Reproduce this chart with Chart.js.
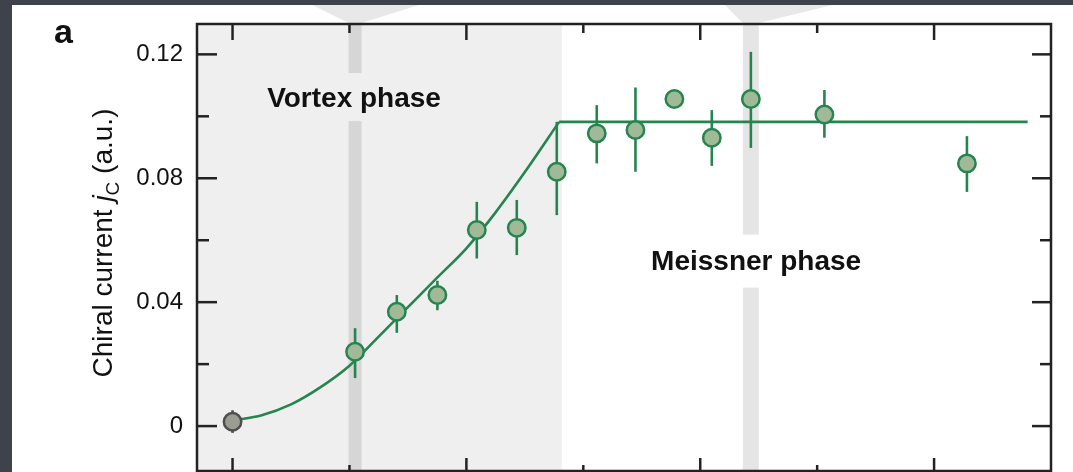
<!DOCTYPE html>
<html><head><meta charset="utf-8">
<script src="https://cdn.jsdelivr.net/npm/chart.js@4/dist/chart.umd.min.js"></script>
<style>html,body{margin:0;padding:0;background:#3e424b;overflow:hidden}canvas{display:block}</style>
</head><body>
<canvas id="c" width="1073" height="472"></canvas>
<script>
// ---- data ----
const pointX  = [1.048, 1.405, 1.752, 2.089, 2.431, 2.773, 3.115, 3.446, 3.779, 4.099, 4.433, 5.062, 6.281];
const pointY  = [0.0240, 0.0369, 0.0423, 0.0633, 0.0640, 0.0821, 0.0945, 0.0956, 0.1056, 0.0931, 0.1056, 0.1006, 0.0848];
const errLow  = [0.0155, 0.0301, 0.0374, 0.0541, 0.0552, 0.0681, 0.0848, 0.0821, null, 0.0840, 0.0898, 0.0931, 0.0756];
const errHigh = [0.0316, 0.0423, 0.0469, 0.0724, 0.0730, 0.0982, 0.1036, 0.1093, null, 0.1020, 0.1208, 0.1085, 0.0936];
const refX = [0.0];
const refY = [0.0014];
const refLow = [-0.0022];
const refHigh = [0.0051];
const fitCurveX = [0, 0.25, 0.5, 0.75, 1.0, 1.25, 1.5, 1.75, 2.0, 2.25, 2.5, 2.793];
const fitCurveY = [0.0018, 0.0035, 0.0070, 0.0125, 0.0195, 0.0289, 0.0384, 0.0479, 0.0574, 0.0690, 0.0820, 0.0982];
const fitFlatX = [2.793, 6.80];
const fitFlatY = [0.0982, 0.0982];
const vortexEndX = 2.816;
const highlightX = [1.048, 4.433];
const phaseLabels = ['Vortex phase', 'Meissner phase'];
const yTickLabels = [0, 0.04, 0.08, 0.12];
const yMinorTicks = [0.02, 0.06, 0.10];
const xMajorTicks = [0, 2, 4, 6];
const xMinorTicks = [1, 3, 5];
const yTitleParts = ['Chiral current ', 'j', 'C', ' (a.u.)'];
const panelLetter = 'a';

// ---- styling ----
const FONT = '"Liberation Sans", Arial, Helvetica, sans-serif';
const GREEN = '#26844e';
const FILL = '#a0ba98';
const INK = '#111111';

const labelPos = [ {x: 1.039, y: 0.103}, {x: 4.478, y: 0.0505} ];
const stripeStyle = [
  {w: 13, topL: -43, topR: 64, gapUp: 34, gapDown: 14},
  {w: 16, topL: -26, topR: 82, gapUp: 35, gapDown: 18}
];

const decor = {
  id: 'decor',
  beforeDraw(chart) {
    const {ctx, chartArea: a, scales: {x, y}} = chart;
    ctx.save();
    ctx.fillStyle = '#3e424b';
    ctx.fillRect(0, 0, chart.width, chart.height);
    ctx.fillStyle = '#ffffff';
    ctx.fillRect(12, 5, chart.width - 12, chart.height - 5);
    // vortex shading
    const xe = x.getPixelForValue(vortexEndX);
    ctx.fillStyle = '#efefef';
    ctx.fillRect(a.left, a.top, xe - a.left, a.bottom - a.top);
    // highlight stripes
    highlightX.forEach((hx, i) => {
      const cx = x.getPixelForValue(hx);
      const s = stripeStyle[i];
      const by = y.getPixelForValue(labelPos[i].y);
      ctx.fillStyle = 'rgba(0,0,0,0.1)';
      ctx.fillRect(cx - s.w / 2, a.top, s.w, (by - s.gapUp) - a.top);
      ctx.fillRect(cx - s.w / 2, by + s.gapDown, s.w, a.bottom - (by + s.gapDown));
      ctx.fillStyle = 'rgba(0,0,0,0.09)';
      ctx.beginPath();
      ctx.moveTo(cx + s.topL, 5);
      ctx.lineTo(cx + s.topR, 5);
      ctx.lineTo(cx + s.w / 2, a.top - 1);
      ctx.lineTo(cx - s.w / 2, a.top - 1);
      ctx.closePath();
      ctx.fill();
    });
    // phase labels
    ctx.fillStyle = INK;
    ctx.textAlign = 'center';
    ctx.textBaseline = 'alphabetic';
    ctx.font = 'bold 28px ' + FONT;
    phaseLabels.forEach((t, i) => {
      ctx.fillText(t, x.getPixelForValue(labelPos[i].x), y.getPixelForValue(labelPos[i].y));
    });
    // panel letter
    ctx.textAlign = 'left';
    ctx.font = 'bold 34px ' + FONT;
    ctx.fillText(panelLetter, 54, 43);
    // y title
    ctx.save();
    ctx.translate(112, 243);
    ctx.rotate(-Math.PI / 2);
    const fonts = ['28px ' + FONT, 'italic 28px ' + FONT, '19px ' + FONT, '28px ' + FONT];
    const dys = [0, 0, 7, 0];
    let total = 0;
    const widths = yTitleParts.map((t, i) => { ctx.font = fonts[i]; const w = ctx.measureText(t).width; total += w; return w; });
    let cx = -total / 2;
    ctx.textAlign = 'left';
    yTitleParts.forEach((t, i) => {
      ctx.font = fonts[i];
      ctx.fillText(t, cx, dys[i]);
      cx += widths[i];
    });
    ctx.restore();
    ctx.restore();
  },
  beforeDatasetDraw(chart, args) {
    const ds = chart.data.datasets[args.index];
    if (!ds._err) return;
    const {ctx, scales: {x, y}} = chart;
    const e = ds._err;
    ctx.save();
    ctx.strokeStyle = ds.borderColor;
    ctx.lineWidth = 2.6;
    e.xs.forEach((xv, i) => {
      if (e.lo[i] == null) return;
      const px = x.getPixelForValue(xv);
      ctx.beginPath();
      ctx.moveTo(px, y.getPixelForValue(e.lo[i]));
      ctx.lineTo(px, y.getPixelForValue(e.hi[i]));
      ctx.stroke();
    });
    ctx.restore();
  },
  afterDraw(chart) {
    const {ctx, chartArea: a, scales: {x, y}} = chart;
    ctx.save();
    ctx.strokeStyle = '#222';
    ctx.lineWidth = 2.5;
    ctx.strokeRect(a.left, a.top, a.right - a.left, a.bottom - a.top);
    const hline = (x0, x1, py) => { ctx.beginPath(); ctx.moveTo(x0, py); ctx.lineTo(x1, py); ctx.stroke(); };
    const vline = (px, y0, y1) => { ctx.beginPath(); ctx.moveTo(px, y0); ctx.lineTo(px, y1); ctx.stroke(); };
    yTickLabels.forEach(v => { const py = y.getPixelForValue(v); hline(a.left, a.left + 20, py); hline(a.right, a.right - 19, py); });
    yMinorTicks.forEach(v => { const py = y.getPixelForValue(v); hline(a.left, a.left + 12, py); hline(a.right, a.right - 11, py); });
    xMajorTicks.forEach(v => { const px = x.getPixelForValue(v); vline(px, a.top, a.top + 16); vline(px, a.bottom, a.bottom - 13); });
    xMinorTicks.forEach(v => { const px = x.getPixelForValue(v); vline(px, a.top, a.top + 9); vline(px, a.bottom, a.bottom - 6); });
    ctx.restore();
  }
};

const zip = (xs, ys) => xs.map((v, i) => ({x: v, y: ys[i]}));

new Chart(document.getElementById('c'), {
  type: 'scatter',
  data: {
    datasets: [
      {
        label: 'data', order: 0,
        data: zip(pointX, pointY),
        backgroundColor: FILL, borderColor: GREEN, borderWidth: 2.5,
        pointRadius: 8.7, pointHoverRadius: 8.7,
        _err: {xs: pointX, lo: errLow, hi: errHigh}
      },
      {
        label: 'reference', order: 1,
        data: zip(refX, refY),
        backgroundColor: '#9b9c92', borderColor: '#4e4e4e', borderWidth: 2.5,
        pointRadius: 8.7, pointHoverRadius: 8.7,
        _err: {xs: refX, lo: refLow, hi: refHigh}
      },
      {
        label: 'fit', order: 2, type: 'line',
        data: zip(fitCurveX, fitCurveY),
        borderColor: GREEN, borderWidth: 2.6, pointRadius: 0, fill: false,
        cubicInterpolationMode: 'monotone'
      },
      {
        label: 'fit flat', order: 3, type: 'line',
        data: zip(fitFlatX, fitFlatY),
        borderColor: GREEN, borderWidth: 2.6, pointRadius: 0, fill: false, tension: 0
      }
    ]
  },
  options: {
    responsive: false,
    animation: false,
    events: [],
    layout: {autoPadding: false, padding: {left: 0, right: 22, top: 24, bottom: 1}},
    plugins: {legend: {display: false}, tooltip: {enabled: false}},
    scales: {
      x: {type: 'linear', display: false, min: -0.304, max: 7.0},
      y: {
        type: 'linear', min: -0.0145, max: 0.1298,
        grid: {display: false, drawTicks: false},
        border: {display: false},
        afterBuildTicks: s => { s.ticks = yTickLabels.map(v => ({value: v})); },
        afterFit: s => { s.width = 197; s.paddingTop = 0; s.paddingBottom = 0; },
        ticks: {
          padding: 14, color: INK,
          font: {family: FONT, size: 24},
          callback: v => (v === 0 ? '0' : Number(v).toFixed(2))
        }
      }
    }
  },
  plugins: [decor]
});
</script>
</body></html>
